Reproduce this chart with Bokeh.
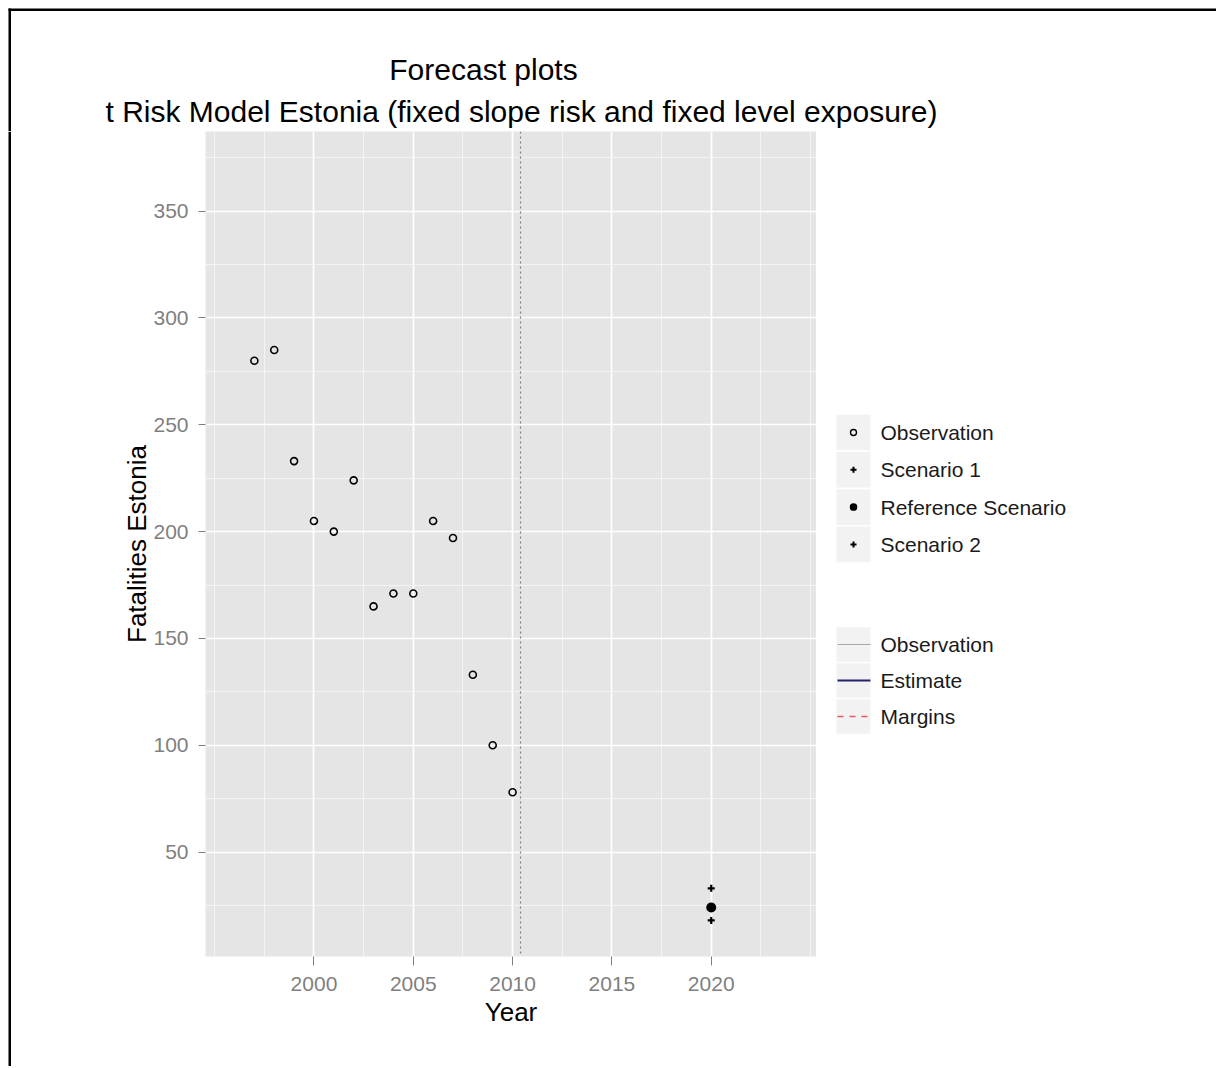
from bokeh.plotting import figure
from bokeh.layouts import column, row
from bokeh.models import Range1d, FixedTicker, Span
from bokeh.embed import file_html
from bokeh.resources import INLINE
from bokeh.core.properties import value

# ---------------- data ----------------
title_text = "Forecast plots"
subtitle_text = "t Risk Model Estonia (fixed slope risk and fixed level exposure)"
x_label = "Year"
y_label = "Fatalities Estonia"

obs_years = [1997, 1998, 1999, 2000, 2001, 2002, 2003, 2004, 2005, 2006, 2007, 2008, 2009, 2010]
obs_fatalities = [280, 285, 233, 205, 200, 224, 165, 171, 171, 205, 197, 133, 100, 78]

forecast_year = [2020]
scenario1 = [33]
reference_scenario = [24]
scenario2 = [18]

forecast_start = 2010.4

x_ticks = [2000, 2005, 2010, 2015, 2020]
x_minor = [1995, 1997.5, 2002.5, 2007.5, 2012.5, 2017.5, 2022.5, 2025]
y_ticks = [50, 100, 150, 200, 250, 300, 350]
y_minor = [25, 75, 125, 175, 225, 275, 325, 375]

point_legend_labels = ["Observation", "Scenario 1", "Reference Scenario", "Scenario 2"]
line_legend_labels = ["Observation", "Estimate", "Margins"]

# ---------------- layout constants (page pixels) ----------------
FONT = "Liberation Sans"
PAGE_W, PAGE_H = 1216, 1066
TOP_H = 131              # height of title strip (frame top of main plot)
STRIP_W = 12             # left strip holding outer frame line
FRAME_L, FRAME_R, FRAME_B = 205, 816, 956
BODY_H = PAGE_H - TOP_H


def blank_fig(w, h, x0, x1, y0, y1):
    f = figure(width=w, height=h, output_backend="svg", toolbar_location=None,
               x_range=Range1d(x0, x1), y_range=Range1d(y0, y1),
               x_axis_type=None, y_axis_type=None, frame_align=False,
               min_border=0, min_border_left=0, min_border_right=0,
               min_border_top=0, min_border_bottom=0)
    f.title = None
    f.outline_line_color = None
    f.background_fill_color = "white"
    f.border_fill_color = "white"
    f.xgrid.visible = False
    f.ygrid.visible = False
    return f


# ---------------- title strip ----------------
top = blank_fig(PAGE_W, TOP_H, 0, PAGE_W, TOP_H, 0)
top.quad(left=[8], right=[PAGE_W], top=[8], bottom=[10.5], fill_color="black", line_color=None)
top.quad(left=[8], right=[10.5], top=[8], bottom=[TOP_H], fill_color="black", line_color=None)
top.text(x=[483], y=[69], text=[title_text], text_font=value(FONT), text_font_size="30px",
         text_align="center", text_baseline="alphabetic", text_color="black")
top.text(x=[521], y=[111], text=[subtitle_text], text_font=value(FONT), text_font_size="30px",
         text_align="center", text_baseline="alphabetic", text_color="black")

# ---------------- left strip ----------------
left = blank_fig(STRIP_W, BODY_H, 0, STRIP_W, PAGE_H, TOP_H)
left.quad(left=[8], right=[10.5], top=[TOP_H], bottom=[PAGE_H], fill_color="black", line_color=None)

# ---------------- main plot ----------------
MAIN_W = FRAME_R - STRIP_W
p = figure(width=MAIN_W, height=BODY_H, output_backend="svg", toolbar_location=None,
           x_range=Range1d(1994.54, 2025.3), y_range=Range1d(1.1, 387.3), frame_align=False,
           min_border_left=FRAME_L - STRIP_W, min_border_right=0,
           min_border_top=0, min_border_bottom=PAGE_H - FRAME_B)
p.title = None
p.background_fill_color = "#E5E5E5"
p.border_fill_color = "white"
p.outline_line_color = None

p.xgrid.ticker = FixedTicker(ticks=x_ticks, minor_ticks=x_minor)
p.ygrid.ticker = FixedTicker(ticks=y_ticks, minor_ticks=y_minor)
for g in (p.xgrid, p.ygrid):
    g.grid_line_color = "white"
    g.grid_line_width = 1.7
    g.minor_grid_line_color = "#F5F5F5"
    g.minor_grid_line_width = 0.9

p.xaxis.ticker = FixedTicker(ticks=x_ticks)
p.yaxis.ticker = FixedTicker(ticks=y_ticks)
for ax in (p.xaxis, p.yaxis):
    ax.axis_line_color = None
    ax.minor_tick_line_color = None
    ax.major_tick_line_color = "#7F7F7F"
    ax.major_tick_line_width = 1
    ax.major_tick_in = 0
    ax.major_label_text_font = FONT
    ax.major_label_text_font_size = "21px"
    ax.major_label_text_color = "#7F7F7F"
    ax.axis_label_text_font = FONT
    ax.axis_label_text_font_size = "26px"
    ax.axis_label_text_font_style = "normal"
    ax.axis_label_text_color = "black"
p.xaxis.major_tick_out = 9
p.xaxis.major_label_standoff = 11
p.xaxis.axis_label_standoff = 3
p.yaxis.major_tick_out = 7
p.yaxis.major_label_standoff = 10
p.yaxis.axis_label_standoff = -2
p.xaxis.axis_label = x_label
p.yaxis.axis_label = y_label

p.add_layout(Span(location=forecast_start, dimension="height", line_color="#7F7F7F",
                  line_dash="2 3", line_width=1.2))

p.scatter(obs_years, obs_fatalities, marker="circle", size=7,
          fill_color=None, line_color="black", line_width=1.6)
p.scatter(forecast_year, scenario1, marker="cross", size=7, line_color="black", line_width=2.2)
p.scatter(forecast_year, reference_scenario, marker="circle", size=8,
          fill_color="black", line_color="black", line_width=2)
p.scatter(forecast_year, scenario2, marker="cross", size=7, line_color="black", line_width=2.2)

# ---------------- legend panel ----------------
LEG_W = PAGE_W - FRAME_R
leg = blank_fig(LEG_W, BODY_H, FRAME_R, PAGE_W, PAGE_H, TOP_H)

KEY_L, KEY_R, KEY_C, TXT_X = 836, 870, 853, 880
pt_rows = [432, 469.3, 506.6, 543.9]
ln_rows = [644, 680, 716]

leg.quad(left=[KEY_L] * 4, right=[KEY_R] * 4,
         top=[r - 17.8 for r in pt_rows], bottom=[r + 17.8 for r in pt_rows],
         fill_color="#F2F2F2", line_color=None)
leg.quad(left=[KEY_L] * 3, right=[KEY_R] * 3,
         top=[r - 17.3 for r in ln_rows], bottom=[r + 17.3 for r in ln_rows],
         fill_color="#F2F2F2", line_color=None)

# point keys
leg.scatter([KEY_C], [pt_rows[0]], marker="circle", size=6, fill_color=None,
            line_color="black", line_width=1.4)
leg.scatter([KEY_C], [pt_rows[1]], marker="cross", size=6, line_color="black", line_width=2)
leg.scatter([KEY_C], [pt_rows[2]], marker="circle", size=6, fill_color="black",
            line_color="black", line_width=1.5)
leg.scatter([KEY_C], [pt_rows[3]], marker="cross", size=6, line_color="black", line_width=2)

# line keys
leg.segment(x0=[KEY_L + 1], x1=[KEY_R], y0=[ln_rows[0]], y1=[ln_rows[0]],
            line_color="#A8A8A8", line_width=1.2)
leg.segment(x0=[KEY_L + 1], x1=[KEY_R], y0=[ln_rows[1]], y1=[ln_rows[1]],
            line_color="#23236E", line_width=2)
leg.segment(x0=[KEY_L + 1], x1=[KEY_R], y0=[ln_rows[2]], y1=[ln_rows[2]],
            line_color="#E05A66", line_width=1.5, line_dash="6 6")

leg.text(x=[TXT_X] * 4, y=pt_rows, text=point_legend_labels, text_font=value(FONT),
         text_font_size="21px", text_baseline="middle", text_align="left", text_color="#1A1A1A")
leg.text(x=[TXT_X] * 3, y=ln_rows, text=line_legend_labels, text_font=value(FONT),
         text_font_size="21px", text_baseline="middle", text_align="left", text_color="#1A1A1A")

layout = column(top, row(left, p, leg))
open("out.html", "w").write(file_html(layout, INLINE))
